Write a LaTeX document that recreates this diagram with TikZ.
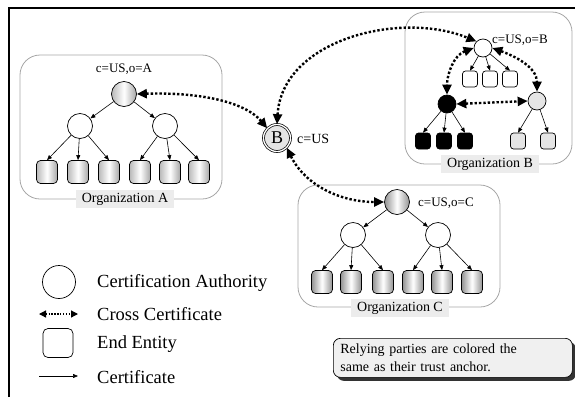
\documentclass[tikz,border=0pt]{standalone}
\usepackage{fontspec}
\setmainfont{Liberation Serif}
\usetikzlibrary{arrows.meta,shadows}
\begin{document}
\begin{tikzpicture}[x=1pt,y=-1pt,
 ca/.style={circle,draw,line width=0.7pt,minimum size=25pt,inner sep=0pt},
 sca/.style={circle,draw,line width=0.7pt,minimum size=18pt,inner sep=0pt},
 ee/.style={rounded corners=4pt,draw,line width=0.7pt,minimum width=21pt,minimum height=23pt,inner sep=0pt},
 see/.style={rounded corners=3pt,draw,line width=0.7pt,minimum width=15pt,minimum height=16pt,inner sep=0pt},
 shA/.style={left color=gray!55,right color=gray!70,middle color=white},
 shC/.style={left color=gray!85,right color=gray!85,middle color=white},
 cert/.style={-{Triangle[length=5pt,width=4pt]},line width=0.6pt},
 xcert/.style={{Triangle[length=10pt,width=9pt]}-{Triangle[length=10pt,width=9pt]},line width=2.4pt,dash pattern=on 2.4pt off 2pt},
 orgbox/.style={draw=gray!70,line width=0.8pt,rounded corners=20pt},
 orglabel/.style={fill=gray!15,inner xsep=6pt,inner ysep=3pt,font=\fontsize{14}{16}\selectfont},
 lbl/.style={font=\fontsize{13}{15}\selectfont,inner sep=0pt},
 legtext/.style={anchor=west,font=\fontsize{18.5}{20}\selectfont,inner sep=0pt}
]
\useasboundingbox (0,0) rectangle (575,397);
% frame
\draw[line width=1.2pt] (9,397) -- (9,8) -- (575,8);

% ---------- Organization A ----------
\draw[orgbox] (20,55) rectangle (222,199);
\node[orglabel] (labA) at (125,199) {Organization A};
\node[lbl] (nameA) at (124,69) {c=US,o=A};
\node[ca,shA] (rA) at (124,94) {};
\node[ca,fill=white] (a1) at (80,126) {};
\node[ca,fill=white] (a2) at (165,126) {};
\foreach \i/\x in {1/47,2/78,3/109,4/140,5/170,6/199}
  \node[ee,shA] (la\i) at (\x,172) {};
\draw[cert] (rA) -- (a1);
\draw[cert] (rA) -- (a2);
\foreach \i in {1,2,3} \draw[cert] (a1) -- (la\i.north);
\foreach \i in {4,5,6} \draw[cert] (a2) -- (la\i.north);

% ---------- Bridge ----------
\node[circle,draw,double,line width=0.7pt,double distance=1.3pt,fill=gray!20,minimum size=27pt,inner sep=0pt,font=\fontsize{18}{20}\selectfont] (B) at (277,138) {B};
\node[font=\fontsize{14}{16}\selectfont,inner sep=0pt,anchor=west] (nameB) at (297,139) {c=US};

% ---------- Organization B ----------
\draw[orgbox] (405,12) rectangle (572,164);
\node[orglabel] (labB) at (490,164) {Organization B};
\node[sca,fill=white] (rB) at (483,48) {};
\node[lbl,anchor=west] (nameOB) at (492,40) {c=US,o=B};
\foreach \i/\x in {1/470,2/490,3/510}
  \node[see,fill=white] (wb\i) at (\x,79) {};
\node[sca,fill=black] (bk) at (447,104) {};
\node[sca,fill=gray!20] (gy) at (537,101) {};
\foreach \i/\x in {1/423,2/444,3/465}
  \node[see,fill=black] (kb\i) at (\x,141) {};
\foreach \i/\x in {1/518,2/548}
  \node[see,fill=gray!20] (gb\i) at (\x,141) {};
\foreach \i in {1,2,3} \draw[cert] (rB) -- (wb\i.north);
\foreach \i in {1,2,3} \draw[cert] (bk) -- (kb\i.north);
\foreach \i in {1,2} \draw[cert] (gy) -- (gb\i.north);
\draw[xcert] (rB.west) to[out=200,in=90] (bk.north);
\draw[xcert] (rB.east) to[out=-20,in=90] (gy.north);
\draw[xcert] (bk.east) -- (gy.west);

% ---------- Organization C ----------
\draw[orgbox] (298,185) rectangle (500,307);
\node[orglabel] (labC) at (400,308) {Organization C};
\node[ca,shC] (rC) at (397,202) {};
\node[lbl,anchor=west] (nameC) at (418,203) {c=US,o=C};
\node[ca,fill=white] (c1) at (353,235) {};
\node[ca,fill=white] (c2) at (438,235) {};
\foreach \i/\x in {1/322,2/351,3/383,4/413,5/442,6/472}
  \node[ee,shC] (lc\i) at (\x,282) {};
\draw[cert] (rC) -- (c1);
\draw[cert] (rC) -- (c2);
\foreach \i in {1,2,3} \draw[cert] (c1) -- (lc\i.north);
\foreach \i in {4,5,6} \draw[cert] (c2) -- (lc\i.north);

% ---------- cross certificates with bridge ----------
\draw[xcert] (rA.east) .. controls (200,92) and (245,102) .. (B.north west);
\draw[xcert] (B.north) .. controls (282,40) and (400,10) .. (rB.north west);
\draw[xcert] (B.south east) .. controls (305,185) and (340,202) .. (rC.west);

% ---------- Legend ----------
\node[circle,draw,line width=0.7pt,minimum size=33pt,inner sep=0pt] (legCA) at (59,282) {};
\node[legtext] (tCA) at (97,283) {Certification Authority};
\coordinate (x1) at (39,314);
\coordinate (x2) at (78,314);
\draw[{Triangle[length=7pt,width=7pt]}-{Triangle[length=7pt,width=7pt]},line width=1.3pt,dash pattern=on 1.3pt off 1.6pt] (x1) -- (x2);
\node[legtext] (tX) at (97,314) {Cross Certificate};
\node[rounded corners=5pt,draw,line width=0.7pt,minimum width=30pt,minimum height=29pt,inner sep=0pt] (legEE) at (58,343) {};
\node[legtext] (tEE) at (97,344) {End Entity};
\coordinate (c1s) at (39,376);
\coordinate (c1e) at (78,376);
\draw[cert] (c1s) -- (c1e);
\node[legtext] (tC) at (97,377) {Certificate};

% ---------- note ----------
\node[draw,line width=0.7pt,fill=gray!12,rounded corners=7pt,
      drop shadow={shadow xshift=3.5pt,shadow yshift=-3.5pt,fill=black!80,opacity=1},
      anchor=north west,text width=225pt,inner xsep=7pt,inner ysep=4pt,minimum height=39pt,
      align=left,font=\fontsize{14}{18}\selectfont] (note) at (333,338)
  {Relying parties are colored the\\same as their trust anchor.};
\end{tikzpicture}
\end{document}
